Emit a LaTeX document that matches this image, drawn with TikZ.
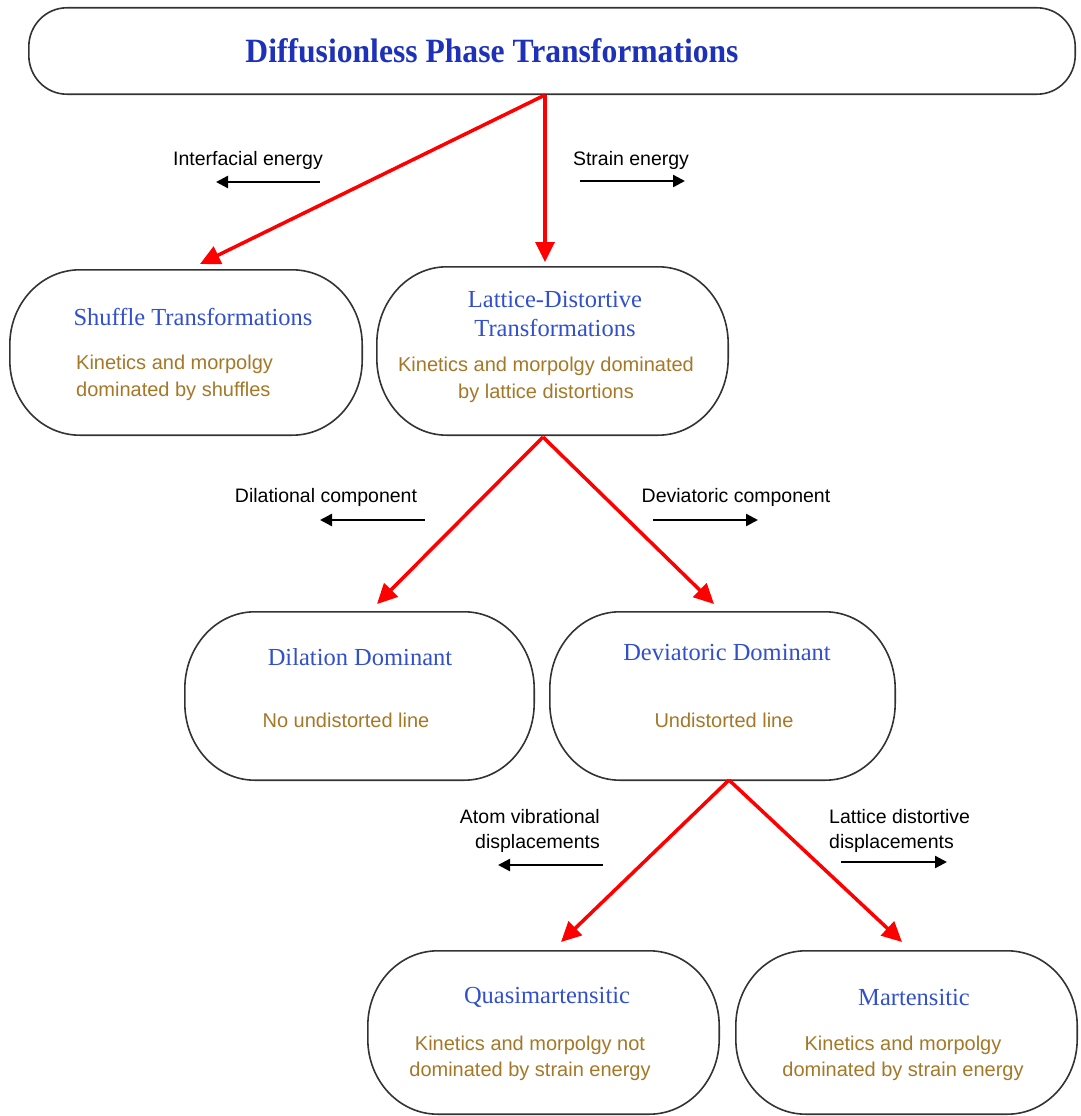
\documentclass[tikz,border=0pt]{standalone}
\usepackage{graphicx}
\usepackage{fontspec}
\setmainfont{Liberation Serif}
\setsansfont{Liberation Sans}
\usetikzlibrary{arrows.meta}
\definecolor{ttlblue}{RGB}{30,50,185}
\definecolor{subblue}{RGB}{50,80,205}
\definecolor{bodybrown}{RGB}{165,120,40}
\newcommand\drawovbox[3]{%
  \draw[boxline] ([xshift=#2]#1.north west) -- ([xshift=-#2]#1.north east)
    arc[start angle=90, end angle=0, x radius=#2, y radius=#3]
    -- ([yshift=#3]#1.south east)
    arc[start angle=0, end angle=-90, x radius=#2, y radius=#3]
    -- ([xshift=#2]#1.south west)
    arc[start angle=270, end angle=180, x radius=#2, y radius=#3]
    -- ([yshift=-#3]#1.north west)
    arc[start angle=180, end angle=90, x radius=#2, y radius=#3] -- cycle;}
\begin{document}
\begin{tikzpicture}[x=1pt,y=-1pt,
  box/.style={draw=none, rectangle, inner sep=0pt},
  boxline/.style={draw=black!80, line width=1.6pt, fill=white},
  ttl/.style={font=\fontsize{24.5}{29}\selectfont, text=subblue, inner sep=0pt, align=center},
  body/.style={font=\sffamily\fontsize{20}{26.5}\selectfont, text=bodybrown, inner sep=0pt, align=center},
  lbl/.style={font=\sffamily\fontsize{19.5}{25}\selectfont, text=black, inner sep=0pt},
  redarr/.style={draw=red, line width=3.5pt, -{Triangle[length=20pt,width=19pt]}},
  blkarr/.style={draw=black, line width=2.4pt, -{Triangle[length=12pt,width=12pt]}}
]
\useasboundingbox (0,0) rectangle (1080,1116);

% boxes
\node[box, minimum width=1046pt, minimum height=86pt] (top) at (552,51) {};
\node[box, minimum width=352pt, minimum height=165pt] (shuf) at (186,352.5) {};
\node[box, minimum width=351pt, minimum height=168pt] (lat) at (552.5,351) {};
\node[box, minimum width=349pt, minimum height=168pt] (dil) at (359.5,696) {};
\node[box, minimum width=345pt, minimum height=168pt] (dev) at (722.5,696) {};
\node[box, minimum width=351pt, minimum height=163pt] (qua) at (543.5,1032.5) {};
\node[box, minimum width=341pt, minimum height=163pt] (mar) at (906.5,1032.5) {};
\drawovbox{top}{38pt}{39pt}
\drawovbox{shuf}{70pt}{75pt}
\drawovbox{lat}{70pt}{77pt}
\drawovbox{dil}{70pt}{77pt}
\drawovbox{dev}{70pt}{77pt}
\drawovbox{qua}{70pt}{75pt}
\drawovbox{mar}{70pt}{75pt}

% texts
\node[font=\fontsize{34}{40}\selectfont\bfseries, text=ttlblue, inner sep=0pt] (ttop) at (492,51) {\scalebox{0.93}[1]{Diffusionless Phase Transformations}};
\node[ttl] (tshuf) at (193,317) {Shuffle Transformations};
\node[body, align=left, anchor=west] (bshuf) at (76,378) {Kinetics and morpolgy\\dominated by shuffles};
\node[ttl] (tlat) at (555,314.5) {Lattice-Distortive\\Transformations};
\node[body] (blat) at (546,380) {Kinetics and morpolgy dominated\\by lattice distortions};
\node[ttl] (tdil) at (360,657) {Dilation Dominant};
\node[body] (bdil) at (346,720) {No undistorted line};
\node[ttl] (tdev) at (727,653) {Deviatoric Dominant};
\node[body] (bdev) at (724,720) {Undistorted line};
\node[ttl] (tqua) at (547,997) {Quasimartensitic};
\node[body] (bqua) at (530,1058.5) {Kinetics and morpolgy not\\dominated by strain energy};
\node[ttl] (tmar) at (914,997) {Martensitic};
\node[body] (bmar) at (903,1058.5) {Kinetics and morpolgy\\dominated by strain energy};

% labels
\node[lbl] (lint) at (248,160) {Interfacial energy};
\node[lbl] (lstr) at (631,160) {Strain energy};
\node[lbl] (ldil) at (326,497) {Dilational component};
\node[lbl] (ldev) at (736,497) {Deviatoric component};
\node[lbl, align=right, anchor=east] (latom) at (600,830.5) {Atom vibrational\\displacements};
\node[lbl, align=left, anchor=west] (lldis) at (829,830.5) {Lattice distortive\\displacements};

% label arrows
\coordinate (ia0) at (320,182); \coordinate (ia1) at (216,182);
\coordinate (sa0) at (580,181); \coordinate (sa1) at (685,181);
\coordinate (da0) at (425,520); \coordinate (da1) at (320,520);
\coordinate (va0) at (653,520); \coordinate (va1) at (758,520);
\coordinate (aa0) at (603,865); \coordinate (aa1) at (498,865);
\coordinate (la0) at (841,862); \coordinate (la1) at (947,862);
\draw[blkarr] (ia0) -- (ia1);
\draw[blkarr] (sa0) -- (sa1);
\draw[blkarr] (da0) -- (da1);
\draw[blkarr] (va0) -- (va1);
\draw[blkarr] (aa0) -- (aa1);
\draw[blkarr] (la0) -- (la1);

% red connectors
\coordinate (r0) at (545,95);
\coordinate (rshuf) at (200,264);
\coordinate (rlat) at (545,262);
\coordinate (r1) at (543,437);
\coordinate (rdil) at (377,604);
\coordinate (rdev) at (714,604);
\coordinate (r2) at (729,780);
\coordinate (rqua) at (561,942);
\coordinate (rmar) at (902,942);
\draw[redarr] (r0) -- (rshuf);
\draw[redarr] (r0) -- (rlat);
\draw[redarr] (r1) -- (rdil);
\draw[redarr] (r1) -- (rdev);
\draw[redarr] (r2) -- (rqua);
\draw[redarr] (r2) -- (rmar);
\end{tikzpicture}
\end{document}
